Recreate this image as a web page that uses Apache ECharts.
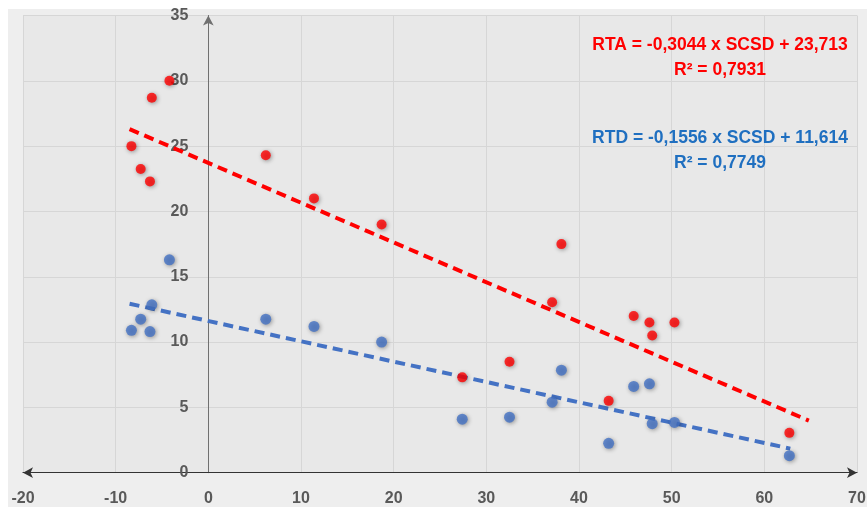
<!DOCTYPE html>
<html>
<head>
<meta charset="utf-8">
<script src="https://cdn.jsdelivr.net/npm/echarts@6/dist/echarts.min.js"></script>
<style>html,body{margin:0;padding:0;background:#fff;}#c{width:867px;height:507px;}</style>
</head>
<body>
<div id="c"></div>
<script>
var scsd = [-8.3, -7.3, -6.3, -6.1, -4.2, 6.2, 11.4, 18.7, 38.1, 37.1, 32.5, 27.4, 43.2, 45.9, 47.6, 47.9, 50.3, 62.7];
var rta  = [25.0, 23.25, 22.3, 28.7, 30.0, 24.3, 21.0, 19.0, 17.5, 13.05, 8.5, 7.3, 5.5, 12.0, 11.5, 10.5, 11.5, 3.05];
var rtd  = [10.9, 11.75, 10.8, 12.85, 16.3, 11.75, 11.2, 10.0, 7.85, 5.4, 4.25, 4.1, 2.25, 6.6, 6.8, 3.75, 3.85, 1.3];
var rtaFit = {slope: -0.3044, intercept: 23.713, range: [-8.5, 64.8]};
var rtdFit = {slope: -0.1556, intercept: 11.614, range: [-8.5, 62.8]};
var xTicks = [-20, 70, 10];
var yTicks = [0, 35, 5];
var rtaText = ['RTA = -0,3044 x SCSD + 23,713', 'R² = 0,7931'];
var rtdText = ['RTD = -0,1556 x SCSD + 11,614', 'R² = 0,7749'];

function pts(ys){ return scsd.map(function(x,i){ return [x, ys[i]]; }); }
function fit(f){ return f.range.map(function(x){ return [x, f.slope*x + f.intercept]; }); }

var FONT = '"Liberation Sans", Arial, sans-serif';
var chart = echarts.init(document.getElementById('c'));
var markerShadow = {shadowBlur: 4, shadowColor: 'rgba(0,0,0,0.45)', shadowOffsetX: 1, shadowOffsetY: 1};
var gridLeft = 23, gridRight = 10, plotW = 867 - gridLeft - gridRight;
var zeroOffset = (0 - xTicks[0]) / (xTicks[1] - xTicks[0]) * plotW; // distance from grid left to x=0
chart.setOption({
  animation: false,
  backgroundColor: '#fff',
  graphic: [
    {type: 'rect', left: 8, top: 9, shape: {width: 859, height: 498}, style: {fill: '#eeeeee'}, z: -10, silent: true}
  ].concat([
    {t: rtaText[0], y: 45, c: '#ff0000'},
    {t: rtaText[1], y: 70, c: '#ff0000'},
    {t: rtdText[0], y: 138, c: '#1f6fc0'},
    {t: rtdText[1], y: 163, c: '#1f6fc0'}
  ].map(function(o){
    return {type: 'text', x: 720, y: o.y, z: 100,
      style: {text: o.t, fill: o.c, font: 'bold 17.5px ' + FONT, textAlign: 'center', textVerticalAlign: 'middle'}};
  })),
  grid: {left: gridLeft, right: gridRight, top: 15.5, bottom: 34.3, show: true, backgroundColor: '#e8e8e8', borderWidth: 0,
         containLabel: false, outerBoundsMode: 'none'},
  xAxis: {
    type: 'value', min: xTicks[0], max: xTicks[1], interval: xTicks[2],
    axisLine: {show: true, onZero: true, lineStyle: {color: '#333', width: 1.2}, symbol: ['arrow', 'arrow'], symbolSize: [8, 10]},
    axisTick: {show: false},
    axisLabel: {margin: 18, color: '#595959', fontWeight: 'bold', fontSize: 16, fontFamily: FONT},
    splitLine: {show: true, lineStyle: {color: '#d6d6d6', width: 1}}
  },
  yAxis: {
    type: 'value', min: yTicks[0], max: yTicks[1], interval: yTicks[2],
    axisLine: {show: true, onZero: true, lineStyle: {color: '#707070', width: 1}, symbol: ['none', 'arrow'], symbolSize: [8, 10]},
    axisTick: {show: false},
    axisLabel: {margin: -(zeroOffset - 20), color: '#595959', fontWeight: 'bold', fontSize: 16, fontFamily: FONT, align: 'right'},
    splitLine: {show: true, lineStyle: {color: '#d6d6d6', width: 1}}
  },
  series: [
    {type: 'line', data: fit(rtaFit), symbol: 'none', z: 3,
     lineStyle: {color: '#ff0000', width: 4, type: [10, 6]}},
    {type: 'line', data: fit(rtdFit), symbol: 'none', z: 3,
     lineStyle: {color: '#4472c4', width: 4, type: [10, 6]}},
    {type: 'scatter', data: pts(rta), symbolSize: 10, z: 4,
     itemStyle: Object.assign({color: '#ff0000'}, markerShadow)},
    {type: 'scatter', data: pts(rtd), symbolSize: 11, z: 4,
     itemStyle: Object.assign({color: '#4472c4'}, markerShadow)}
  ]
});
</script>
</body>
</html>
